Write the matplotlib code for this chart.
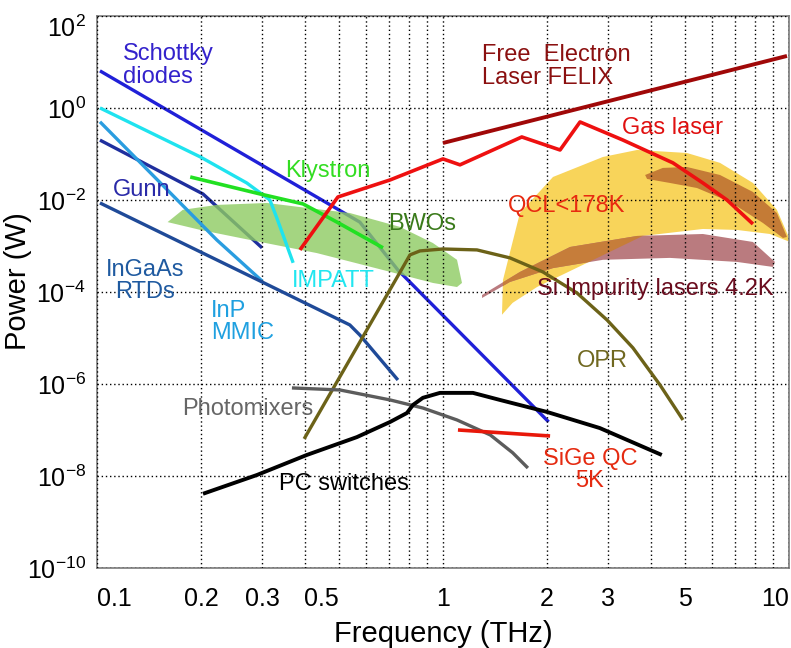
import matplotlib
matplotlib.use('Agg')
import matplotlib.pyplot as plt
from matplotlib.patches import Polygon

plt.rcParams['font.family'] = ['Liberation Sans', 'DejaVu Sans']
plt.rcParams['mathtext.fontset'] = 'custom'
plt.rcParams['mathtext.rm'] = 'Liberation Sans'
plt.rcParams['mathtext.default'] = 'regular'

# source curves, frequency in THz and power in W
schottky_f = [0.102, 0.575, 0.741, 2.02]
schottky_p = [6.4, 3.3e-3, 3.0e-4, 1.5e-7]

impatt_f = [0.102, 0.199, 0.271, 0.316, 0.331, 0.369]
impatt_p = [1.0, 0.086, 0.0234, 0.010, 4.06e-3, 4.3e-4]

inp_mmic_f = [0.102, 0.222, 0.300]
inp_mmic_p = [0.50, 1.35e-3, 1.73e-4]

gunn_f = [0.102, 0.2025, 0.300]
gunn_p = [0.20, 0.0135, 9.1e-4]

rtd_f = [0.102, 0.300, 0.538, 0.575, 0.741]
rtd_p = [8.6e-3, 1.65e-4, 1.92e-5, 1.16e-5, 1.22e-6]

klystron_f = [0.186, 0.296, 0.394, 0.494, 0.671]
klystron_p = [0.0316, 0.0135, 8.2e-3, 3.3e-3, 9.1e-4]

gas_f = [0.386, 0.497, 0.703, 1.0, 1.12, 1.69, 2.18, 2.49, 3.31, 4.62, 5.64, 6.62, 7.87]
gas_p = [8.2e-4, 0.0116, 0.0272, 0.078, 0.058, 0.234, 0.122, 0.496, 0.201, 0.064, 0.0234, 0.010, 3.0e-3]

felix_f = [1.0, 9.87]
felix_p = [0.173, 13.5]

opr_f = [0.397, 0.803, 0.858, 1.0, 1.254, 1.562, 1.945, 2.44, 2.98, 3.54, 4.24, 4.94]
opr_p = [6.4e-8, 6.4e-4, 7.8e-4, 8.6e-4, 8.2e-4, 5.5e-4, 2.72e-4, 9.5e-5, 2.46e-5, 6.1e-6, 9.5e-7, 1.65e-7]

photomixer_f = [0.366, 0.504, 0.703, 0.875, 1.098, 1.37, 1.59, 1.76]
photomixer_p = [8.2e-7, 7.4e-7, 4.5e-7, 3.0e-7, 1.65e-7, 7.8e-8, 3.2e-8, 1.49e-8]

pc_switch_f = [0.2025, 0.290, 0.404, 0.564, 0.703, 0.787, 0.819, 0.875, 0.98, 1.221, 1.46,
               2.0, 2.84, 4.29]
pc_switch_p = [4.1e-9, 1.05e-8, 2.86e-8, 7.0e-8, 1.49e-7, 2.34e-7, 3.5e-7, 5.0e-7, 6.4e-7, 6.4e-7,
               4.5e-7, 2.46e-7, 1.1e-7, 2.86e-8]

sige_f = [1.105, 2.04]
sige_p = [1.0e-7, 7.4e-8]

# shaded regions (outline traced clockwise)
bwo_f = [0.160, 0.177, 0.222, 0.310, 0.386, 0.538, 0.751, 0.935, 1.098, 1.135,
         1.098, 0.935, 0.671, 0.432, 0.277, 0.199]
bwo_p = [3.3e-3, 6.1e-3, 7.8e-3, 8.6e-3, 7.0e-3, 5.2e-3, 2.6e-3, 1.16e-3, 5.0e-4, 1.57e-4,
         1.28e-4, 1.57e-4, 3.0e-4, 7.0e-4, 1.35e-3, 2.23e-3]

qcl_f = [1.481, 1.491, 1.669, 2.08, 2.90, 3.64, 5.07, 6.32, 7.87, 9.23, 10.07,
         10.07, 8.81, 7.07, 5.64, 3.78, 2.61, 1.87, 1.59]
qcl_p = [3.2e-5, 1.82e-4, 5.2e-3, 0.0316, 0.086, 0.122, 0.105, 0.064, 0.0234, 6.1e-3, 1.35e-3,
         1.22e-3, 1.82e-3, 2.23e-3, 2.34e-3, 1.65e-3, 4.3e-4, 1.28e-4, 5.8e-5]

si_imp_f = [1.297, 1.669, 2.33, 3.64, 5.64, 7.87, 9.11,
            8.99, 7.07, 4.53, 2.90, 2.08, 1.562, 1.297]
si_imp_p = [8.6e-5, 2.72e-4, 9.5e-4, 1.65e-3, 1.82e-3, 1.22e-3, 4.5e-4,
            3.5e-4, 4.5e-4, 5.5e-4, 5.0e-4, 3.3e-4, 1.65e-4, 7.4e-5]

qcl_hot_f = [3.84, 4.32, 5.07, 6.32, 7.87, 9.23, 9.87,
             9.61, 8.41, 6.75, 5.42, 4.53, 3.89]
qcl_hot_p = [0.0349, 0.0497, 0.0521, 0.0349, 0.0149, 5.2e-3, 1.57e-3,
             1.49e-3, 3.16e-3, 9.1e-3, 0.0182, 0.0234, 0.0286]

x_ticks = [0.1, 0.2, 0.3, 0.5, 1, 2, 3, 5, 10]
x_tick_labels = ['0.1', '0.2', '0.3', '0.5', '1', '2', '3', '5', '10']
x_grid_minor = [0.4, 0.6, 0.7, 0.8, 0.9, 4, 6, 7, 8, 9]
y_ticks = [1e-10, 1e-8, 1e-6, 1e-4, 1e-2, 1e0, 1e2]
y_tick_labels = ['$10^{-10}$', '$10^{-8}$', '$10^{-6}$', '$10^{-4}$', '$10^{-2}$', '$10^{0}$', '$10^{2}$']

fig = plt.figure(figsize=(7.91, 6.48), dpi=100)
ax = fig.add_axes([0.1226, 0.1235, 0.8748, 0.8519])
ax.set_xscale('log')
ax.set_yscale('log')
ax.set_xlim(0.1, 10)
ax.set_ylim(1e-10, 1e2)

# filled areas
qcl_patch = Polygon(list(zip(qcl_f, qcl_p)), closed=True, facecolor='#f8d45a',
                    edgecolor='none', zorder=1.0)
ax.add_patch(qcl_patch)
ax.add_patch(Polygon(list(zip(si_imp_f, si_imp_p)), closed=True, facecolor='#ba7b7f',
                     edgecolor='none', zorder=1.1))
overlap = Polygon(list(zip(si_imp_f, si_imp_p)), closed=True, facecolor='#c67d3a',
                  edgecolor='none', zorder=1.2)
ax.add_patch(overlap)
overlap.set_clip_path(qcl_patch)
ax.add_patch(Polygon(list(zip(qcl_hot_f, qcl_hot_p)), closed=True, facecolor='#c47b36',
                     edgecolor='none', zorder=1.3))

# lines that sit under the BWO area
ax.plot(schottky_f, schottky_p, color='#2020d8', lw=2.4, zorder=1.5, solid_capstyle='butt')
ax.plot(gunn_f, gunn_p, color='#1f2f9e', lw=2.4, zorder=1.5, solid_capstyle='butt')

ax.add_patch(Polygon(list(zip(bwo_f, bwo_p)), closed=True, facecolor='#8ecb62',
                     edgecolor='none', alpha=0.8, zorder=2.0))

ax.plot(impatt_f, impatt_p, color='#1fe3ef', lw=2.4, zorder=3, solid_capstyle='butt')
ax.plot(inp_mmic_f, inp_mmic_p, color='#2a9de0', lw=2.4, zorder=3, solid_capstyle='butt')
ax.plot(rtd_f, rtd_p, color='#1f4a98', lw=2.4, zorder=3, solid_capstyle='butt')
ax.plot(klystron_f, klystron_p, color='#22e022', lw=2.6, zorder=3, solid_capstyle='butt')
ax.plot(gas_f, gas_p, color='#ee1010', lw=2.6, zorder=3, solid_capstyle='butt')
ax.plot(felix_f, felix_p, color='#a00808', lw=2.8, zorder=3, solid_capstyle='butt')
ax.plot(opr_f, opr_p, color='#6c6218', lw=2.4, zorder=3, solid_capstyle='butt')
ax.plot(photomixer_f, photomixer_p, color='#5c5c5c', lw=2.4, zorder=3, solid_capstyle='butt')
ax.plot(pc_switch_f, pc_switch_p, color='black', lw=2.8, zorder=3, solid_capstyle='butt')
ax.plot(sige_f, sige_p, color='#e8180a', lw=2.6, zorder=3, solid_capstyle='butt')

# labels
fs = 17
ax.text(0.119, 8.5, 'Schottky\ndiodes', color='#3322cc', fontsize=fs, ha='left', va='center',
        linespacing=1.05, zorder=4)
ax.text(0.111, 0.0165, 'Gunn', color='#2a2aa8', fontsize=fs, ha='left', va='center', zorder=4)
ax.text(0.1376, 1.73e-4, 'InGaAs\nRTDs', color='#1f5aa0', fontsize=fs, ha='center', va='center',
        linespacing=1.05, zorder=4)
ax.text(0.2135, 2.23e-5, 'InP\nMMIC', color='#1fa0e0', fontsize=fs, ha='left', va='center',
        linespacing=1.05, zorder=4)
ax.text(0.366, 1.73e-4, 'IMPATT', color='#22e6f0', fontsize=fs, ha='left', va='center', zorder=4)
ax.text(0.3495, 0.0427, 'Klystron', color='#33dd22', fontsize=fs, ha='left', va='center', zorder=4)
ax.text(0.693, 3.0e-3, 'BWOs', color='#3a7a1a', fontsize=fs, ha='left', va='center', zorder=4)
ax.text(1.297, 8.0, 'Free  Electron\nLaser FELIX', color='#8b1010', fontsize=fs, ha='left',
        va='center', linespacing=1.05, zorder=4)
ax.text(3.29, 0.367, 'Gas laser', color='#e01010', fontsize=fs, ha='left', va='center', zorder=4)
ax.text(1.54, 7.4e-3, 'QCL<178K', color='#e82a10', fontsize=fs, ha='left', va='center', zorder=4)
ax.text(1.87, 1.16e-4, 'Si Impurity lasers 4.2K', color='#6a0c1e', fontsize=fs, ha='left',
        va='center', zorder=4)
ax.text(2.44, 3.16e-6, 'OPR', color='#706820', fontsize=fs, ha='left', va='center', zorder=4)
ax.text(0.176, 2.86e-7, 'Photomixers', color='#666666', fontsize=fs, ha='left', va='center', zorder=4)
ax.text(0.336, 6.7e-9, 'PC switches', color='black', fontsize=fs, ha='left', va='center', zorder=4)
ax.text(2.66, 1.35e-8, 'SiGe QC\n5K', color='#e52a10', fontsize=fs, ha='center', va='center',
        linespacing=1.05, zorder=4)

# axes, ticks and dotted grid
ax.set_xticks(x_ticks)
ax.set_xticklabels(x_tick_labels)
ax.set_xticks(x_grid_minor, minor=True)
ax.set_xticklabels([], minor=True)
ax.set_yticks(y_ticks)
ax.set_yticklabels(y_tick_labels)
ax.yaxis.set_minor_locator(matplotlib.ticker.NullLocator())
ax.tick_params(which='both', length=0, labelsize=18)
ax.tick_params(axis='x', pad=14)
ax.tick_params(axis='y', pad=8)
labels = ax.get_xticklabels()
labels[0].set_horizontalalignment('left')
labels[3].set_horizontalalignment('right')
labels[-1].set_horizontalalignment('right')
ylabels = ax.get_yticklabels()
ylabels[-1].set_verticalalignment('top')

ax.set_axisbelow(False)
ax.grid(True, which='both', color='black', linestyle=(0, (1, 2)), linewidth=1.0, zorder=2.5)

for spine in ax.spines.values():
    spine.set_color('#7a7a7a')
    spine.set_linewidth(1.2)

ax.set_xlabel('Frequency (THz)', fontsize=21, labelpad=6)
ax.set_ylabel('Power (W)', fontsize=21)
ax.yaxis.set_label_coords(-0.094, 0.52)

fig.savefig('out.png', dpi=100, facecolor='white')
